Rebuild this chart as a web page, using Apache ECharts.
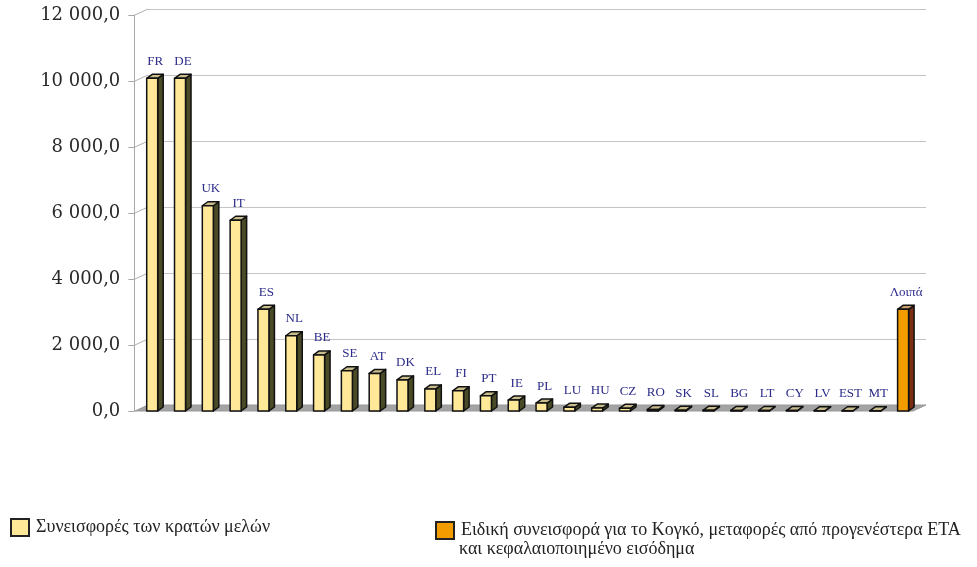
<!DOCTYPE html>
<html>
<head>
<meta charset="utf-8">
<script src="https://cdn.jsdelivr.net/npm/echarts@6/dist/echarts.min.js"></script>
<style>
html,body{margin:0;padding:0;background:#fff;}
#chart{width:977px;height:567px;}
</style>
</head>
<body>
<div id="chart"></div>
<script>
const categories = ['FR','DE','UK','IT','ES','NL','BE','SE','AT','DK','EL','FI','PT','IE','PL','LU','HU','CZ','RO','SK','SL','BG','LT','CY','LV','EST','MT','Λοιπά'];
const memberValues = [10080,10080,6220,5780,3080,2280,1700,1220,1140,940,670,610,460,330,240,110,90,80,45,25,20,18,15,12,10,8,5];
const otherValues = [3080];
const yTicks = [0,2000,4000,6000,8000,10000,12000];
const seriesNames = ['Συνεισφορές των κρατών μελών','Ειδική συνεισφορά για το Κογκό, μεταφορές από προγενέστερα ΕΤΑ και κεφαλαιοποιημένο εισόδημα'];
const legend2Lines = ['Ειδική συνεισφορά για το Κογκό, μεταφορές από προγενέστερα ΕΤΑ','και κεφαλαιοποιημένο εισόδημα'];

const memberData = memberValues.map((v,i)=>[i,v]);
const otherData = otherValues.map((v,i)=>[memberValues.length+i,v]);

function fmt(v){
  const s = v.toFixed(1).split('.');
  const intp = s[0].replace(/\B(?=(\d{3})+(?!\d))/g,' ');
  return intp + ',' + s[1];
}

function bar3d(face, side, topc){
  return function(params, api){
    const idx = api.value(0), val = api.value(1);
    const b = api.coord([idx, 0]);
    const t = api.coord([idx, val]);
    const cx = b[0];
    const fl = cx - 1.5, fw = 11, dx = 5.5, dy = -4;
    const fr = fl + fw, yb = b[1], yt = t[1];
    const st = {stroke:'#111', lineWidth:1.5, lineJoin:'round'};
    return {type:'group', children:[
      {type:'polygon', shape:{points:[[fr,yt],[fr+dx,yt+dy],[fr+dx,yb+dy],[fr,yb]]}, style:Object.assign({fill:side},st)},
      {type:'polygon', shape:{points:[[fl,yt],[fl+dx,yt+dy],[fr+dx,yt+dy],[fr,yt]]}, style:Object.assign({fill:topc},st)},
      {type:'rect', shape:{x:fl, y:yt, width:fw, height:Math.max(yb-yt,0)}, style:Object.assign({fill:face},st)},
      {type:'text', x:cx+7, y:yt-17, style:{text:categories[idx], fill:'#2b2b8a', font:'13px "Liberation Serif"', align:'center', verticalAlign:'middle'}}
    ]};
  };
}

const chart = echarts.init(document.getElementById('chart'));
const option = {
  animation:false,
  backgroundColor:'#fff',
  grid:[
    {left:148, right:51, top:9, bottom:162},
    {left:134.3, right:64, top:15, bottom:156}
  ],
  xAxis:[
    {gridIndex:0, type:'value', show:false, min:0, max:1},
    {gridIndex:1, type:'category', data:categories, axisLine:{show:false}, axisTick:{show:false}, axisLabel:{show:false}}
  ],
  yAxis:[
    {gridIndex:0, type:'value', min:0, max:12000, interval:2000, axisLine:{show:false}, axisTick:{show:false}, axisLabel:{show:false},
     splitLine:{show:true, lineStyle:{color:'#c4c4c4', width:1}}},
    {gridIndex:1, type:'value', min:0, max:12000, interval:2000, splitLine:{show:false},
     axisLine:{show:true, lineStyle:{color:'#a8a8a8', width:1}},
     axisTick:{show:true, length:6, lineStyle:{color:'#a8a8a8'}},
     axisLabel:{margin:14, color:'#2a2a2a', fontFamily:'DejaVu Serif', fontSize:18, formatter:fmt}}
  ],
  legend:[
    {data:[seriesNames[0]], left:5, top:513, itemWidth:18, itemHeight:17, icon:'rect',
     itemStyle:{borderColor:'#222', borderWidth:2},
     textStyle:{fontFamily:'Liberation Serif', fontSize:18, color:'#222', padding:[0,0,0,2]}},
    {data:[seriesNames[1]], left:430, top:516, itemWidth:18, itemHeight:17, icon:'rect',
     itemStyle:{borderColor:'#222', borderWidth:2},
     formatter:function(){ return legend2Lines[0]; },
     textStyle:{fontFamily:'Liberation Serif', fontSize:18, color:'#222', padding:[0,0,0,2]}}
  ],
  series:[
    {name:seriesNames[0], type:'custom', xAxisIndex:1, yAxisIndex:1, z:5, data:memberData,
     itemStyle:{color:'#ffe998'}, renderItem:bar3d('#ffe998','#4a4a26','#c9bd8e'), encode:{x:0,y:1}},
    {name:seriesNames[1], type:'custom', xAxisIndex:1, yAxisIndex:1, z:5, data:otherData,
     itemStyle:{color:'#f39c00'}, renderItem:bar3d('#f39c00','#7a2d12','#c9a070'), encode:{x:0,y:1}}
  ]
};
chart.setOption(option);

// decorations: floor and side-wall lines derived from the axes
const y0f = chart.convertToPixel({yAxisIndex:1}, 0);
const y0b = chart.convertToPixel({yAxisIndex:0}, 0);
const xbL = chart.convertToPixel({xAxisIndex:0}, 0);
const xbR = chart.convertToPixel({xAxisIndex:0}, 1);
const frontL = 135, frontR = xbR - (xbL - frontL);
const els = [{type:'polygon', z:1, shape:{points:[[frontL,y0f],[frontR,y0f],[xbR,y0b],[xbL,y0b]]}, style:{fill:'#a3a3a3', stroke:'#999', lineWidth:1}}];
yTicks.forEach(v=>{
  const yf = chart.convertToPixel({yAxisIndex:1}, v);
  const yb = chart.convertToPixel({yAxisIndex:0}, v);
  if (v>0) els.push({type:'line', z:1, shape:{x1:frontL, y1:yf, x2:xbL, y2:yb}, style:{stroke:'#b0b0b0', lineWidth:1}});
});
els.push({type:'text', z:1, x:459, y:549, style:{text:legend2Lines[1], font:'18px "Liberation Serif"', fill:'#222', verticalAlign:'middle'}});
chart.setOption({graphic:{elements:els}});
</script>
</body>
</html>
